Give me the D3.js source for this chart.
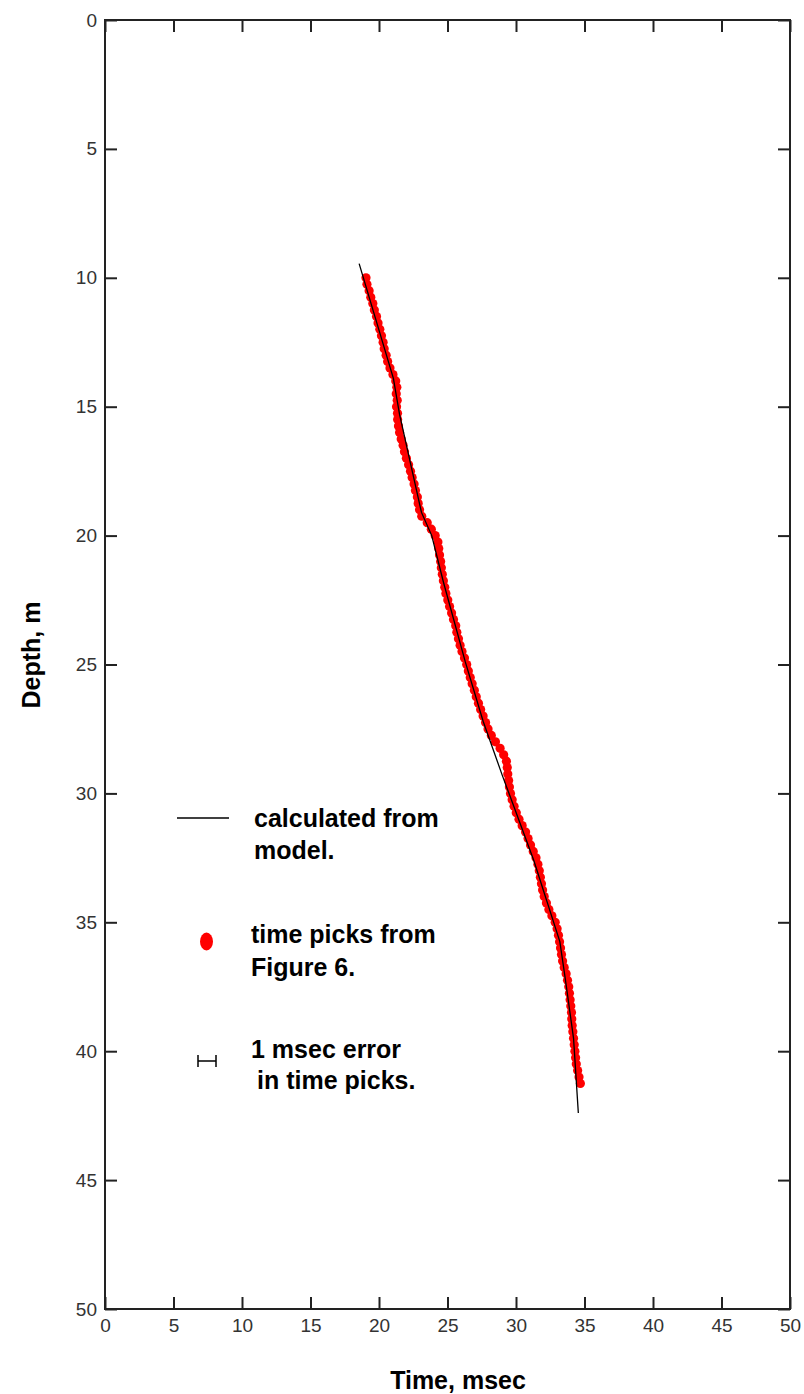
<!DOCTYPE html>
<html lang='en'>
<head>
	<meta charset='UTF-8'/>
	<title>Depth vs time picks</title>
	<script src='https://cdnjs.cloudflare.com/ajax/libs/d3/7.8.5/d3.min.js'></script>
	<style>
		body {margin: 0; background: #fff;}
		svg {display: block; font-family: 'Liberation Sans', Arial, sans-serif;}
		.tick text {font-size: 19px; fill: #333;}
		.axis-title {font-size: 25px; font-weight: bold; fill: #000;}
		.legend {font-size: 25px; font-weight: bold; fill: #000;}
	</style>
</head>
<body>
	<div class='graph'></div>
	<script>
		// picked depths (m) and arrival times (msec)
		const pickDepth = [
			10.00, 10.25, 10.50, 10.75, 11.00, 11.25, 11.50, 11.75, 12.00, 12.25,
			12.50, 12.75, 13.00, 13.25, 13.50, 13.75, 14.00, 14.25, 14.50, 14.75,
			15.00, 15.25, 15.50, 15.75, 16.00, 16.25, 16.50, 16.75, 17.00, 17.25,
			17.50, 17.75, 18.00, 18.25, 18.50, 18.75, 19.00, 19.25, 19.50, 19.75,
			20.00, 20.25, 20.50, 20.75, 21.00, 21.25, 21.50, 21.75, 22.00, 22.25,
			22.50, 22.75, 23.00, 23.25, 23.50, 23.75, 24.00, 24.25, 24.50, 24.75,
			25.00, 25.25, 25.50, 25.75, 26.00, 26.25, 26.50, 26.75, 27.00, 27.25,
			27.50, 27.75, 28.00, 28.25, 28.50, 28.75, 29.00, 29.25, 29.50, 29.75,
			30.00, 30.25, 30.50, 30.75, 31.00, 31.25, 31.50, 31.75, 32.00, 32.25,
			32.50, 32.75, 33.00, 33.25, 33.50, 33.75, 34.00, 34.25, 34.50, 34.75,
			35.00, 35.25, 35.50, 35.75, 36.00, 36.25, 36.50, 36.75, 37.00, 37.25,
			37.50, 37.75, 38.00, 38.25, 38.50, 38.75, 39.00, 39.25, 39.50, 39.75,
			40.00, 40.25, 40.50, 40.75, 41.00, 41.25
		];
		const pickTime = [
			19.05, 19.12, 19.28, 19.40, 19.55, 19.66, 19.82, 19.93, 20.06, 20.18,
			20.30, 20.38, 20.52, 20.63, 20.80, 21.02, 21.22, 21.30, 21.26, 21.33,
			21.28, 21.35, 21.36, 21.42, 21.50, 21.62, 21.76, 21.86, 22.00, 22.16,
			22.30, 22.42, 22.56, 22.66, 22.80, 22.86, 22.96, 23.12, 23.52, 23.82,
			24.10, 24.30, 24.36, 24.42, 24.50, 24.55, 24.62, 24.70, 24.80, 24.88,
			25.02, 25.15, 25.30, 25.44, 25.60, 25.68, 25.80, 25.92, 26.06, 26.24,
			26.40, 26.52, 26.66, 26.80, 26.96, 27.10, 27.26, 27.42, 27.60, 27.78,
			27.96, 28.20, 28.50, 28.84, 29.10, 29.30, 29.36, 29.40, 29.46, 29.52,
			29.60, 29.72, 29.86, 30.02, 30.22, 30.45, 30.70, 30.88, 31.06, 31.26,
			31.46, 31.60, 31.70, 31.78, 31.86, 31.94, 32.06, 32.22, 32.40, 32.62,
			32.86, 33.00, 33.10, 33.18, 33.25, 33.32, 33.40, 33.52, 33.66, 33.76,
			33.85, 33.90, 33.95, 34.00, 34.05, 34.07, 34.10, 34.15, 34.20, 34.25,
			34.30, 34.35, 34.40, 34.50, 34.60, 34.70
		];

		// travel times calculated from the velocity model
		const modelDepth = [9.45, 13.9, 15.3, 19.1, 20.0, 21.8, 24.9, 27.2, 29.3, 32.6, 35.75, 37.2, 39.5, 42.4];
		const modelTime = [18.55, 21.05, 21.5, 23.1, 23.85, 24.7, 26.3, 27.6, 29.0, 31.3, 33.2, 33.6, 34.2, 34.55];

		const xTicks = [0, 5, 10, 15, 20, 25, 30, 35, 40, 45, 50];
		const yTicks = [0, 5, 10, 15, 20, 25, 30, 35, 40, 45, 50];

		const width = 804, height = 1394;
		const margin = {top: 20, right: 14, bottom: 85, left: 105};

		const svg = d3.select('.graph')
			.append('svg')
			.attr('width', width)
			.attr('height', height);

		const X = d3.scaleLinear().domain([0, 50]).range([margin.left, width - margin.right]);
		const Y = d3.scaleLinear().domain([0, 50]).range([margin.top, height - margin.bottom]);

		// axes, ticks pointing inward on all four sides
		const tickLen = 12;
		function styleAxis(g) {
			g.select('.domain').remove();
			g.selectAll('.tick line').attr('stroke', '#222').attr('stroke-width', 2);
		}
		svg.append('g')
			.attr('transform', 'translate(0,' + Y(50) + ')')
			.call(d3.axisBottom(X).tickValues(xTicks).tickSize(-tickLen).tickPadding(10).tickFormat(d3.format('d')))
			.call(styleAxis);
		svg.append('g')
			.attr('transform', 'translate(' + X(0) + ',0)')
			.call(d3.axisLeft(Y).tickValues(yTicks).tickSize(-tickLen).tickPadding(8).tickFormat(d3.format('d')))
			.call(styleAxis);
		svg.append('g')
			.attr('transform', 'translate(0,' + Y(0) + ')')
			.call(d3.axisTop(X).tickValues(xTicks).tickSize(-tickLen).tickFormat(''))
			.call(styleAxis);
		svg.append('g')
			.attr('transform', 'translate(' + X(50) + ',0)')
			.call(d3.axisRight(Y).tickValues(yTicks).tickSize(-tickLen).tickFormat(''))
			.call(styleAxis);
		svg.selectAll('.tick text').attr('font-family', null).attr('font-size', null);

		// frame
		svg.append('rect')
			.attr('x', X(0))
			.attr('y', Y(0))
			.attr('width', X(50) - X(0))
			.attr('height', Y(50) - Y(0))
			.attr('fill', 'none')
			.attr('stroke', '#222')
			.attr('stroke-width', 2);

		// axis titles
		svg.append('text')
			.attr('class', 'axis-title')
			.attr('x', 458)
			.attr('y', 1389)
			.attr('text-anchor', 'middle')
			.text('Time, msec');
		svg.append('text')
			.attr('class', 'axis-title')
			.attr('transform', 'translate(40,655) rotate(-90)')
			.attr('text-anchor', 'middle')
			.text('Depth, m');

		// time picks
		svg.append('g')
			.selectAll('circle')
			.data(pickDepth)
			.join('circle')
			.attr('cx', (d, i) => X(pickTime[i]))
			.attr('cy', d => Y(d))
			.attr('r', 4.6)
			.attr('fill', '#ff0000');

		// model curve
		const line = d3.line()
			.x((d, i) => X(modelTime[i]))
			.y(d => Y(d));
		svg.append('path')
			.attr('d', line(modelDepth))
			.attr('fill', 'none')
			.attr('stroke', '#000')
			.attr('stroke-width', 1.3);

		// legend
		const lg = svg.append('g');
		lg.append('line')
			.attr('x1', 177).attr('x2', 229)
			.attr('y1', 818).attr('y2', 818)
			.attr('stroke', '#000').attr('stroke-width', 1.5);
		lg.append('ellipse')
			.attr('cx', 206.5).attr('cy', 941.5)
			.attr('rx', 6.5).attr('ry', 9)
			.attr('fill', '#ff0000');
		lg.append('path')
			.attr('d', 'M198,1055V1067M198,1061H216M216,1055V1067')
			.attr('fill', 'none')
			.attr('stroke', '#000')
			.attr('stroke-width', 1.5);

		const legendText = [
			{x: 254, y: 827, t: 'calculated from'},
			{x: 254, y: 859, t: 'model.'},
			{x: 251, y: 943, t: 'time picks from'},
			{x: 251, y: 976, t: 'Figure 6.'},
			{x: 251, y: 1058, t: '1 msec error'},
			{x: 257, y: 1089, t: 'in time picks.'}
		];
		lg.selectAll('text.legend')
			.data(legendText)
			.join('text')
			.attr('class', 'legend')
			.attr('x', d => d.x)
			.attr('y', d => d.y)
			.text(d => d.t);
	</script>
</body>
</html>
